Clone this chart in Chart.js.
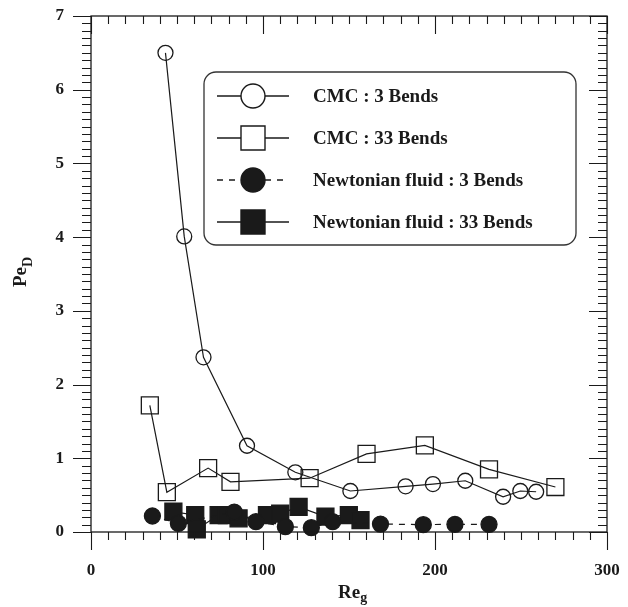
<!DOCTYPE html>
<html lang="en">
<head>
<meta charset="UTF-8">
<title>Pe_D vs Re_g</title>
<script src="https://cdn.jsdelivr.net/npm/chart.js"></script>
<style>
  html, body { margin: 0; padding: 0; background: #fff; }
  #wrap { width: 628px; height: 607px; }
</style>
</head>
<body>
<div id="wrap"><canvas id="chart" width="628" height="607"></canvas></div>
<script>
// Dispersion Peclet number against generalized Reynolds number
const cmc3Re = [43.3, 54.2, 65.4, 90.7, 118.8, 150.8, 182.9, 198.8, 217.6, 239.6, 249.6, 258.8];
const cmc3Pe = [6.50, 4.01, 2.37, 1.17, 0.81, 0.556, 0.62, 0.65, 0.695, 0.478, 0.556, 0.546];

const cmc33Re = [34.2, 44.1, 68.1, 81.1, 127.1, 160.2, 194.1, 231.4, 270.0];
const cmc33Pe = [1.717, 0.54, 0.867, 0.68, 0.73, 1.06, 1.175, 0.85, 0.61];

const newt3Re = [35.7, 50.8, 83.3, 95.9, 113.0, 128.1, 140.5, 168.3, 193.2, 211.6, 231.4];
const newt3Pe = [0.217, 0.118, 0.27, 0.14, 0.072, 0.058, 0.14, 0.108, 0.10, 0.104, 0.104];

const newt33Re = [47.9, 60.6, 61.5, 74.2, 79.0, 85.8, 102.3, 110.0, 120.7, 136.3, 149.9, 156.7];
const newt33Pe = [0.275, 0.23, 0.037, 0.23, 0.23, 0.185, 0.23, 0.25, 0.34, 0.21, 0.23, 0.16];

const seriesNames = ['CMC : 3 Bends', 'CMC : 33 Bends', 'Newtonian fluid : 3 Bends', 'Newtonian fluid : 33 Bends'];
const xTicks = [0, 100, 200, 300];
const yTicks = [0, 1, 2, 3, 4, 5, 6, 7];

const SERIF = '"Liberation Serif", "Times New Roman", serif';
const INK = '#1a1a1a';

function pts(xs, ys) {
  return xs.map((x, i) => ({ x: x, y: ys[i] }));
}

// tick marks on all four sides: out on bottom/left, in on top/right
const frameTicks = {
  id: 'frameTicks',
  afterDraw(chart) {
    const { ctx, chartArea: a, scales: { x, y } } = chart;
    ctx.save();
    ctx.strokeStyle = INK;
    ctx.lineWidth = 1.3;
    ctx.strokeRect(a.left, a.top, a.right - a.left, a.bottom - a.top);
    ctx.lineWidth = 1.1;
    ctx.beginPath();
    for (let v = 0; v <= 300; v += 10) {
      const px = Math.round(x.getPixelForValue(v)) + 0.5;
      const major = v % 100 === 0;
      const len = major ? 18 : 8;
      ctx.moveTo(px, a.bottom); ctx.lineTo(px, a.bottom + len);
      ctx.moveTo(px, a.top); ctx.lineTo(px, a.top + len);
    }
    for (let i = 0; i <= 70; i++) {
      const py = Math.round(y.getPixelForValue(i / 10)) + 0.5;
      const major = i % 10 === 0;
      const len = major ? 18 : 9;
      ctx.moveTo(a.left, py); ctx.lineTo(a.left - len, py);
      ctx.moveTo(a.right, py); ctx.lineTo(a.right - len, py);
    }
    ctx.stroke();

    // axis titles with subscripts
    ctx.fillStyle = INK;
    ctx.textBaseline = 'alphabetic';
    ctx.font = 'bold 19px ' + SERIF;
    ctx.textAlign = 'left';
    const reW = ctx.measureText('Re').width;
    ctx.fillText('Re', 338, 598);
    ctx.font = 'bold 14px ' + SERIF;
    ctx.fillText('g', 338 + reW, 602);

    ctx.translate(26, 287);
    ctx.rotate(-Math.PI / 2);
    ctx.font = 'bold 19px ' + SERIF;
    const peW = ctx.measureText('Pe').width;
    ctx.fillText('Pe', 0, 0);
    ctx.font = 'bold 14px ' + SERIF;
    ctx.fillText('D', peW, 6);
    ctx.restore();
  }
};

// boxed legend with line samples and markers
const boxLegend = {
  id: 'boxLegend',
  afterDraw(chart) {
    const ctx = chart.ctx;
    const bx = 204, by = 72, bw = 372, bh = 173, r = 12;
    ctx.save();
    ctx.strokeStyle = '#333';
    ctx.lineWidth = 1.3;
    ctx.fillStyle = '#fff';
    ctx.beginPath();
    ctx.roundRect(bx, by, bw, bh, r);
    ctx.fill();
    ctx.stroke();

    const rowY = [96, 138, 180, 222];
    chart.data.datasets.forEach((ds, i) => {
      const yy = rowY[i];
      ctx.strokeStyle = INK;
      ctx.lineWidth = 1.3;
      ctx.setLineDash(ds.borderDash || []);
      ctx.beginPath();
      ctx.moveTo(217, yy); ctx.lineTo(289, yy);
      ctx.stroke();
      ctx.setLineDash([]);
      ctx.beginPath();
      if (ds.pointStyle === 'circle') {
        ctx.arc(253, yy, 12, 0, Math.PI * 2);
      } else {
        ctx.rect(241, yy - 12, 24, 24);
      }
      const filled = ds.pointBackgroundColor === INK;
      ctx.fillStyle = filled ? INK : '#fff';
      ctx.fill();
      ctx.lineWidth = 1.4;
      ctx.stroke();
      ctx.fillStyle = INK;
      ctx.font = 'bold 19px ' + SERIF;
      ctx.textAlign = 'left';
      ctx.textBaseline = 'middle';
      ctx.fillText(ds.label, 313, yy + 1);
    });
    ctx.restore();
  }
};

function series(label, xs, ys, style, filled, dash) {
  return {
    label: label,
    data: pts(xs, ys),
    showLine: true,
    borderColor: INK,
    borderWidth: 1.2,
    borderDash: dash,
    pointStyle: style,
    pointRadius: style === 'circle' ? (filled ? 8 : 7.5) : 12,
    pointBorderWidth: 1.3,
    pointBorderColor: INK,
    pointBackgroundColor: filled ? INK : 'rgba(0,0,0,0)',
    clip: false
  };
}

new Chart(document.getElementById('chart'), {
  type: 'scatter',
  data: {
    datasets: [
      series(seriesNames[0], cmc3Re, cmc3Pe, 'circle', false, []),
      series(seriesNames[1], cmc33Re, cmc33Pe, 'rect', false, []),
      series(seriesNames[2], newt3Re, newt3Pe, 'circle', true, [6, 6]),
      series(seriesNames[3], newt33Re, newt33Pe, 'rect', true, [])
    ]
  },
  options: {
    responsive: false,
    animation: false,
    devicePixelRatio: 1,
    layout: { padding: { left: 0, top: 16, right: 21, bottom: 0 } },
    plugins: { legend: { display: false }, tooltip: { enabled: false } },
    scales: {
      x: {
        type: 'linear',
        min: 0, max: 300,
        afterFit(s) { s.height = 75; s.paddingLeft = 0; s.paddingRight = 0; },
        afterBuildTicks(s) { s.ticks = xTicks.map(v => ({ value: v })); },
        grid: { display: false, drawTicks: false },
        border: { display: false },
        ticks: { color: INK, padding: 28, font: { family: SERIF, size: 17, weight: 'bold' } }
      },
      y: {
        type: 'linear',
        min: 0, max: 7,
        afterFit(s) { s.width = 91; s.paddingTop = 0; s.paddingBottom = 0; },
        afterBuildTicks(s) { s.ticks = yTicks.map(v => ({ value: v })); },
        grid: { display: false, drawTicks: false },
        border: { display: false },
        ticks: { color: INK, padding: 27, font: { family: SERIF, size: 17, weight: 'bold' } }
      }
    }
  },
  plugins: [frameTicks, boxLegend]
});
</script>
</body>
</html>
